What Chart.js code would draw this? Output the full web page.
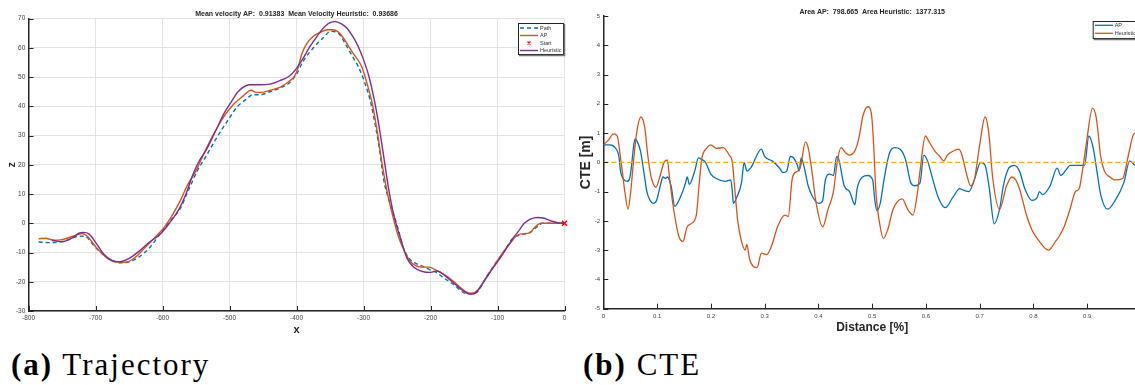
<!DOCTYPE html>
<html>
<head>
<meta charset="utf-8">
<script src="https://cdn.jsdelivr.net/npm/chart.js@4.4.1/dist/chart.umd.min.js"></script>
<style>
html, body { margin:0; padding:0; width:1135px; height:385px; overflow:hidden; background:#fff; }
#wrap1 { position:absolute; left:0; top:0; width:570px; height:340px; }
#wrap2 { position:absolute; left:570px; top:0; width:580px; height:340px; }
.cap { position:absolute; top:349px; font-family:"Liberation Serif", serif; font-size:31px; line-height:31px; letter-spacing:2px; color:#000; white-space:nowrap; }
</style>
</head>
<body>
<div id="wrap1"><canvas id="canva1"></canvas></div>
<div id="wrap2"><canvas id="canva2"></canvas></div>
<div class="cap" style="left:11px"><b>(a)</b> Trajectory</div>
<div class="cap" style="left:583px"><b>(b)</b> CTE</div>
<script>
// ---- data: trajectory (x, z) ----
const trajTitle = "Mean velocity AP:  0.91383  Mean Velocity Heuristic:  0.93686";
const pathPts = [[-785,-6.4],[-770,-6.6],[-755,-6.4],[-740,-5.6],[-725,-4.4],[-715,-4.5],[-705,-7],[-690,-10.5],[-675,-12.8],[-664,-13.5],[-650,-13.2],[-635,-11.5],[-620,-8.5],[-605,-4],[-590,0.5],[-575,4.5],[-562,11],[-548,18],[-535,23],[-520,29],[-502,35.4],[-488,40],[-476,42.3],[-465,44],[-454,44],[-440,45],[-425,46.3],[-411,48],[-400,51],[-390,55.5],[-373,60.5],[-360,63.5],[-349,65.7],[-338,65.1],[-325,60.5],[-315,56.5],[-308,53.7],[-298,48],[-290,42],[-282,33],[-276,25],[-270,15],[-262,8],[-254,2.3],[-247,-3],[-241,-8],[-232,-12],[-222,-13.7],[-210,-14.8],[-200,-16],[-190,-17],[-179,-18.9],[-165,-21],[-147,-24],[-138,-24],[-130,-23.4],[-117,-18.5],[-103,-13.7],[-90,-9.5],[-77,-5.1],[-66,-4],[-58,-3.5],[-50,-2.9],[-40,-1],[-33,0],[-20,0],[0,0]];
const apPts = [[-785,-5.3],[-775,-5.1],[-762,-5.8],[-750,-5.6],[-735,-4.5],[-720,-3.5],[-712,-4.5],[-700,-8],[-685,-11.5],[-670,-13.2],[-655,-13.3],[-640,-11.5],[-625,-8],[-610,-4.5],[-598,-1.5],[-585,3],[-573,8],[-563,13],[-550,18],[-538,24],[-525,30],[-510,36],[-495,40.5],[-480,43.5],[-468,45.5],[-460,44.8],[-452,44.8],[-440,45.5],[-425,46.5],[-411,48.6],[-404,50],[-398,53],[-392,58],[-384,61.7],[-375,64],[-365,65.3],[-354,66.2],[-346,66.2],[-338,65.5],[-332,64],[-316,58.3],[-303,53.7],[-295,48],[-287,41],[-280,32],[-272,20],[-265,11],[-258,4],[-248,-4.5],[-240,-9],[-232,-12.5],[-222,-14.5],[-212,-15],[-202,-15],[-192,-16],[-180,-17.5],[-165,-20],[-150,-23],[-140,-24],[-130,-23],[-118,-19],[-105,-14.5],[-92,-10],[-80,-6.5],[-70,-4],[-62,-3.6],[-52,-3.3],[-45,-1.5],[-35,0],[-20,0],[0,0]];
const heurPts = [[-765,-5.8],[-750,-6.3],[-735,-5],[-725,-3.4],[-718,-3.1],[-710,-3.6],[-700,-6.5],[-688,-10.5],[-675,-12.8],[-665,-13.2],[-650,-12],[-635,-9.5],[-620,-6.5],[-605,-4],[-595,-1.5],[-585,1.5],[-575,5],[-565,10],[-555,16.5],[-545,21.5],[-535,25],[-520,32],[-508,37.7],[-497,41.7],[-487,45.1],[-470,47.4],[-455,47.4],[-440,47.6],[-425,48.8],[-411,50.3],[-400,53],[-390,56.5],[-380,60.5],[-373,62.8],[-363,66],[-352,68.4],[-343,69],[-333,68.2],[-325,66.8],[-315,63.5],[-308,60.5],[-300,56],[-292,50.3],[-284,42.3],[-276,32],[-268,20],[-262,11],[-255,3],[-245,-5],[-235,-12],[-225,-15],[-212,-16.5],[-200,-16.8],[-190,-16.3],[-178,-18],[-165,-20.5],[-152,-23],[-142,-24.2],[-134,-24],[-125,-21.5],[-112,-17],[-98,-12.5],[-85,-8],[-75,-4.5],[-68,-2.5],[-60,0],[-50,1.5],[-40,2],[-32,1.8],[-20,0.8],[-10,0.2],[0,0]];
const startPts = [[0,0]];

// ---- data: cross track error ----
const cteTitle = "Area AP:  798.665  Area Heuristic:  1377.315";
const apDist = [0,0.012,0.022,0.029,0.032,0.039,0.044,0.049,0.052,0.056,0.059,0.062,0.069,0.076,0.081,0.087,0.093,0.099,0.106,0.111,0.116,0.119,0.126,0.133,0.143,0.153,0.156,0.160,0.170,0.177,0.183,0.190,0.200,0.210,0.227,0.237,0.240,0.242,0.248,0.257,0.262,0.267,0.274,0.294,0.300,0.314,0.328,0.334,0.341,0.348,0.354,0.361,0.364,0.368,0.374,0.381,0.390,0.401,0.408,0.413,0.421,0.428,0.434,0.438,0.448,0.458,0.468,0.472,0.482,0.492,0.501,0.505,0.509,0.515,0.522,0.532,0.542,0.552,0.562,0.572,0.579,0.589,0.596,0.603,0.613,0.623,0.636,0.650,0.663,0.670,0.680,0.690,0.702,0.710,0.718,0.727,0.737,0.744,0.754,0.764,0.774,0.784,0.797,0.807,0.811,0.817,0.831,0.844,0.851,0.861,0.868,0.895,0.903,0.911,0.918,0.925,0.938,0.952,0.968,0.979,0.989,1.0];
const apCte = [0.6,0.6,0.5,0.2,-0.3,-0.6,-0.65,-0.55,-0.2,0.5,0.8,0.75,0.4,-0.4,-1.0,-1.3,-1.4,-1.3,-0.8,-0.5,-0.55,-0.5,-0.8,-1.5,-1.2,-0.7,-0.5,-0.75,-0.3,0.15,0.1,0.0,-0.4,-0.55,-0.65,-0.6,-1.0,-1.4,-1.2,-0.7,0.0,-0.3,-0.2,0.45,0.2,0.05,-0.2,-0.35,-0.3,0.2,0.15,-0.1,-0.3,0.15,-0.2,-0.8,-1.2,-1.4,-1.3,-0.6,-0.4,-0.45,0.2,0.1,-0.8,-1.0,-1.45,-0.9,-0.5,-0.45,-0.6,-1.3,-1.65,-1.4,-0.6,0.3,0.5,0.45,0.1,-0.7,-0.8,-0.7,0.25,0.05,-0.6,-1.2,-1.55,-1.2,-0.9,-0.95,-1.0,-0.6,0.0,-0.1,-0.9,-2.1,-1.6,-0.8,-0.2,-0.1,-0.3,-0.9,-1.3,-1.2,-1.0,-1.1,-0.8,-0.2,-0.45,-0.25,-0.1,-0.1,0.9,0.5,-0.3,-1.1,-1.6,-1.3,-0.7,0.05,-0.1,-0.15];
const heurDist = [0,0.009,0.019,0.026,0.031,0.036,0.040,0.046,0.051,0.056,0.062,0.070,0.077,0.083,0.089,0.098,0.105,0.113,0.119,0.123,0.130,0.140,0.148,0.156,0.163,0.173,0.178,0.183,0.193,0.200,0.210,0.223,0.234,0.240,0.244,0.250,0.257,0.264,0.267,0.272,0.286,0.294,0.304,0.314,0.324,0.338,0.344,0.351,0.354,0.366,0.376,0.381,0.388,0.395,0.408,0.418,0.428,0.435,0.442,0.452,0.458,0.468,0.475,0.483,0.492,0.499,0.503,0.507,0.515,0.521,0.529,0.539,0.556,0.566,0.576,0.583,0.589,0.599,0.606,0.616,0.626,0.633,0.640,0.650,0.661,0.666,0.677,0.683,0.690,0.700,0.710,0.717,0.724,0.737,0.750,0.760,0.767,0.774,0.787,0.797,0.811,0.828,0.841,0.847,0.857,0.868,0.878,0.885,0.891,0.898,0.910,0.917,0.925,0.932,0.942,0.952,0.966,0.976,0.986,0.995];
const heurCte = [0.6,0.75,0.97,0.9,0.3,-0.4,-1.0,-1.6,-1.0,0.0,1.0,1.55,1.2,0.2,-0.5,-0.85,-0.5,0.0,0.08,-0.5,-1.5,-2.5,-2.7,-2.2,-2.1,-1.8,-0.8,0.1,0.5,0.6,0.48,0.5,0.25,0.0,-0.8,-2.0,-2.7,-3.0,-2.8,-3.3,-3.6,-3.1,-3.15,-2.8,-2.2,-1.8,-1.85,-0.6,-0.4,-0.2,0.7,0.5,-0.3,-1.3,-2.2,-1.6,-1.0,0.0,0.5,0.3,0.25,0.4,0.8,1.6,1.9,1.6,0.5,-1.0,-2.2,-2.6,-2.3,-1.6,-1.25,-1.6,-1.8,-1.2,-0.3,0.9,0.7,0.4,0.2,0.05,0.25,0.38,0.45,0.3,-0.5,-0.8,-0.6,0.6,1.55,1.0,-0.5,-1.6,-0.8,-0.5,-0.6,-0.9,-1.8,-2.3,-2.7,-3.0,-2.7,-2.55,-2.2,-1.6,-1.0,-0.9,-0.3,0.6,1.85,1.5,0.2,-0.3,-0.5,-0.6,-0.55,0.2,0.95,1.05];
const zeroDist = [0, 1];
const zeroCte = [0, 0];

const FONT = "'Liberation Sans', Arial, sans-serif";
const AXIS = "#262626";

function toXY(pts) { return pts.map(p => ({x: p[0], y: p[1]})); }
function zipXY(xs, ys) { return xs.map((v, i) => ({x: v, y: ys[i]})); }

// MATLAB style ticks pointing into the plot
const inwardTicks = {
    id: "inwardTicks",
    afterDatasetsDraw(chart, args, o) {
        let ctx = chart.ctx, xs = chart.scales.x, ys = chart.scales.y;
        ctx.save();
        ctx.strokeStyle = AXIS;
        ctx.lineWidth = 1;
        ctx.beginPath();
        xs.ticks.forEach(t => {
            let p = Math.round(xs.getPixelForValue(t.value)) + 0.5;
            ctx.moveTo(p, xs.top);
            ctx.lineTo(p, xs.top - o.len);
        });
        ys.ticks.forEach(t => {
            let p = Math.round(ys.getPixelForValue(t.value)) + 0.5;
            ctx.moveTo(ys.right, p);
            ctx.lineTo(ys.right + o.len, p);
        });
        ctx.stroke();
        ctx.restore();
    }
};

// legend box drawn inside the axes, like MATLAB's 'northeast'
const boxLegend = {
    id: "boxLegend",
    afterDraw(chart, args, o) {
        let ctx = chart.ctx;
        ctx.save();
        ctx.fillStyle = "#fff";
        ctx.fillRect(o.x, o.y, o.w, o.h);
        ctx.strokeStyle = AXIS;
        ctx.lineWidth = 1;
        ctx.strokeRect(o.x + 0.5, o.y + 0.5, o.w, o.h);
        ctx.strokeStyle = "#777";
        ctx.lineWidth = 1.5;
        ctx.beginPath();
        ctx.moveTo(o.x + 1, o.y + o.h + 1.5);
        ctx.lineTo(o.x + o.w + 1.5, o.y + o.h + 1.5);
        ctx.lineTo(o.x + o.w + 1.5, o.y + 1);
        ctx.stroke();
        let items = chart.data.datasets.filter(d => d.label);
        items.forEach((d, i) => {
            let cy = o.y + o.first + i * o.step;
            if (d.pointRadius > 0 && !d.showLine) {
                let cx = o.x + o.lineX + o.lineW / 2;
                ctx.strokeStyle = d.borderColor;
                ctx.lineWidth = 1.2;
                ctx.beginPath();
                ctx.moveTo(cx - 1.5, cy - 1.5); ctx.lineTo(cx + 1.5, cy + 1.5);
                ctx.moveTo(cx - 1.5, cy + 1.5); ctx.lineTo(cx + 1.5, cy - 1.5);
                ctx.stroke();
            } else {
                ctx.strokeStyle = d.borderColor;
                ctx.lineWidth = d.borderWidth;
                ctx.setLineDash(d.borderDash || []);
                ctx.beginPath();
                ctx.moveTo(o.x + o.lineX, cy);
                ctx.lineTo(o.x + o.lineX + o.lineW, cy);
                ctx.stroke();
                ctx.setLineDash([]);
            }
            ctx.fillStyle = "#333";
            ctx.font = o.font;
            ctx.textBaseline = "middle";
            ctx.fillText(d.label, o.x + o.textX, cy);
        });
        ctx.restore();
    }
};

window.onload = function(){
    let canva1 = document.getElementById("canva1");
    let grafico1 = new Chart(canva1, {
        type: "scatter",
        data: {
            datasets: [
                { label: "Path", data: toXY(pathPts), showLine: true, borderColor: "#0072BD", borderWidth: 1.4, borderDash: [4, 3], pointRadius: 0, cubicInterpolationMode: "monotone", order: 3 },
                { label: "AP", data: toXY(apPts), showLine: true, borderColor: "#D95319", borderWidth: 1.4, pointRadius: 0, cubicInterpolationMode: "monotone", order: 2 },
                { label: "Start", data: toXY(startPts), showLine: false, borderColor: "#FF0000", backgroundColor: "#FF0000", pointStyle: "crossRot", pointRadius: 3.5, borderWidth: 1.5, clip: false, order: 1 },
                { label: "Heuristic", data: toXY(heurPts), showLine: true, borderColor: "#7E2F8E", borderWidth: 1.4, pointRadius: 0, cubicInterpolationMode: "monotone", order: 0 }
            ]
        },
        options: {
            responsive: true,
            maintainAspectRatio: false,
            animation: false,
            layout: { padding: { left: 0, right: 2.3, top: 0, bottom: 0 } },
            plugins: {
                legend: { display: false },
                tooltip: { enabled: false },
                title: { display: true, text: trajTitle, fullSize: false, color: AXIS, font: { family: FONT, size: 7, weight: "bold" }, padding: { top: 9.8, bottom: 0.5 } },
                inwardTicks: { len: 5 },
                boxLegend: { x: 518, y: 23, w: 45, h: 31, first: 5, step: 7.5, lineX: 2, lineW: 18, textX: 22, font: "5.5px " + FONT }
            },
            scales: {
                x: {
                    type: "linear", min: -800, max: 0,
                    ticks: { stepSize: 100, color: "#444", font: { family: FONT, size: 6.5 }, padding: 3, maxRotation: 0, autoSkip: false },
                    grid: { color: "#e3e3e3", lineWidth: 1, drawTicks: false },
                    border: { display: true, color: AXIS, width: 1.5 },
                    title: { display: true, text: "x", color: AXIS, font: { family: FONT, size: 11, weight: "bold" }, padding: { top: 0, bottom: 3.3 } },
                    afterFit(s) { s.height = 29; }
                },
                y: {
                    type: "linear", min: -30, max: 70,
                    ticks: { stepSize: 10, color: "#444", font: { family: FONT, size: 6.5 }, padding: 3.3 },
                    grid: { color: "#e3e3e3", lineWidth: 1, drawTicks: false },
                    border: { display: true, color: AXIS, width: 1.5 },
                    title: { display: true, text: "z", color: AXIS, font: { family: FONT, size: 11, weight: "bold" }, padding: { top: 5, bottom: 0 } },
                    afterFit(s) { s.width = 28.6; }
                }
            }
        },
        plugins: [inwardTicks, boxLegend]
    });

    let canva2 = document.getElementById("canva2");
    let grafico2 = new Chart(canva2, {
        type: "scatter",
        data: {
            datasets: [
                { label: "AP", data: zipXY(apDist, apCte), showLine: true, borderColor: "#0072BD", borderWidth: 1.3, pointRadius: 0, cubicInterpolationMode: "monotone", order: 2 },
                { label: "Heuristic", data: zipXY(heurDist, heurCte), showLine: true, borderColor: "#D95319", borderWidth: 1.3, pointRadius: 0, cubicInterpolationMode: "monotone", order: 1 },
                { label: "", data: zipXY(zeroDist, zeroCte), showLine: true, borderColor: "#EDB120", borderWidth: 1.4, borderDash: [5, 3], pointRadius: 0, order: 0 }
            ]
        },
        options: {
            responsive: true,
            maintainAspectRatio: false,
            animation: false,
            layout: { padding: { left: 0, right: 9, top: 0, bottom: 0 } },
            plugins: {
                legend: { display: false },
                tooltip: { enabled: false },
                title: { display: true, text: cteTitle, fullSize: false, color: AXIS, font: { family: FONT, size: 7, weight: "bold" }, padding: { top: 7.5, bottom: 0.1 } },
                inwardTicks: { len: 5 },
                boxLegend: { x: 522.7, y: 21, w: 52, h: 17, first: 4.3, step: 8, lineX: 2.3, lineW: 18, textX: 22, font: "5.5px " + FONT }
            },
            scales: {
                x: {
                    type: "linear", min: 0, max: 1,
                    ticks: { stepSize: 0.1, color: "#444", font: { family: FONT, size: 6 }, padding: 3.7, maxRotation: 0, autoSkip: false,
                             callback: v => String(+v.toFixed(1)) },
                    grid: { color: "rgba(0,0,0,0)", drawTicks: false },
                    border: { display: true, color: AXIS, width: 1.5 },
                    title: { display: true, text: "Distance [%]", color: AXIS, font: { family: FONT, size: 12, weight: "bold" }, padding: { top: 0, bottom: 5.1 } },
                    afterFit(s) { s.height = 31.3; }
                },
                y: {
                    type: "linear", min: -5, max: 5,
                    ticks: { stepSize: 1, color: "#444", font: { family: FONT, size: 6 }, padding: 3.3 },
                    grid: { color: "rgba(0,0,0,0)", drawTicks: false },
                    border: { display: true, color: AXIS, width: 1.5 },
                    title: { display: true, text: "CTE [m]", color: AXIS, font: { family: FONT, size: 14, weight: "bold" }, padding: { top: 8, bottom: 0 } },
                    afterFit(s) { s.width = 33.3; }
                }
            }
        },
        plugins: [inwardTicks, boxLegend]
    });
}
</script>
</body>
</html>
